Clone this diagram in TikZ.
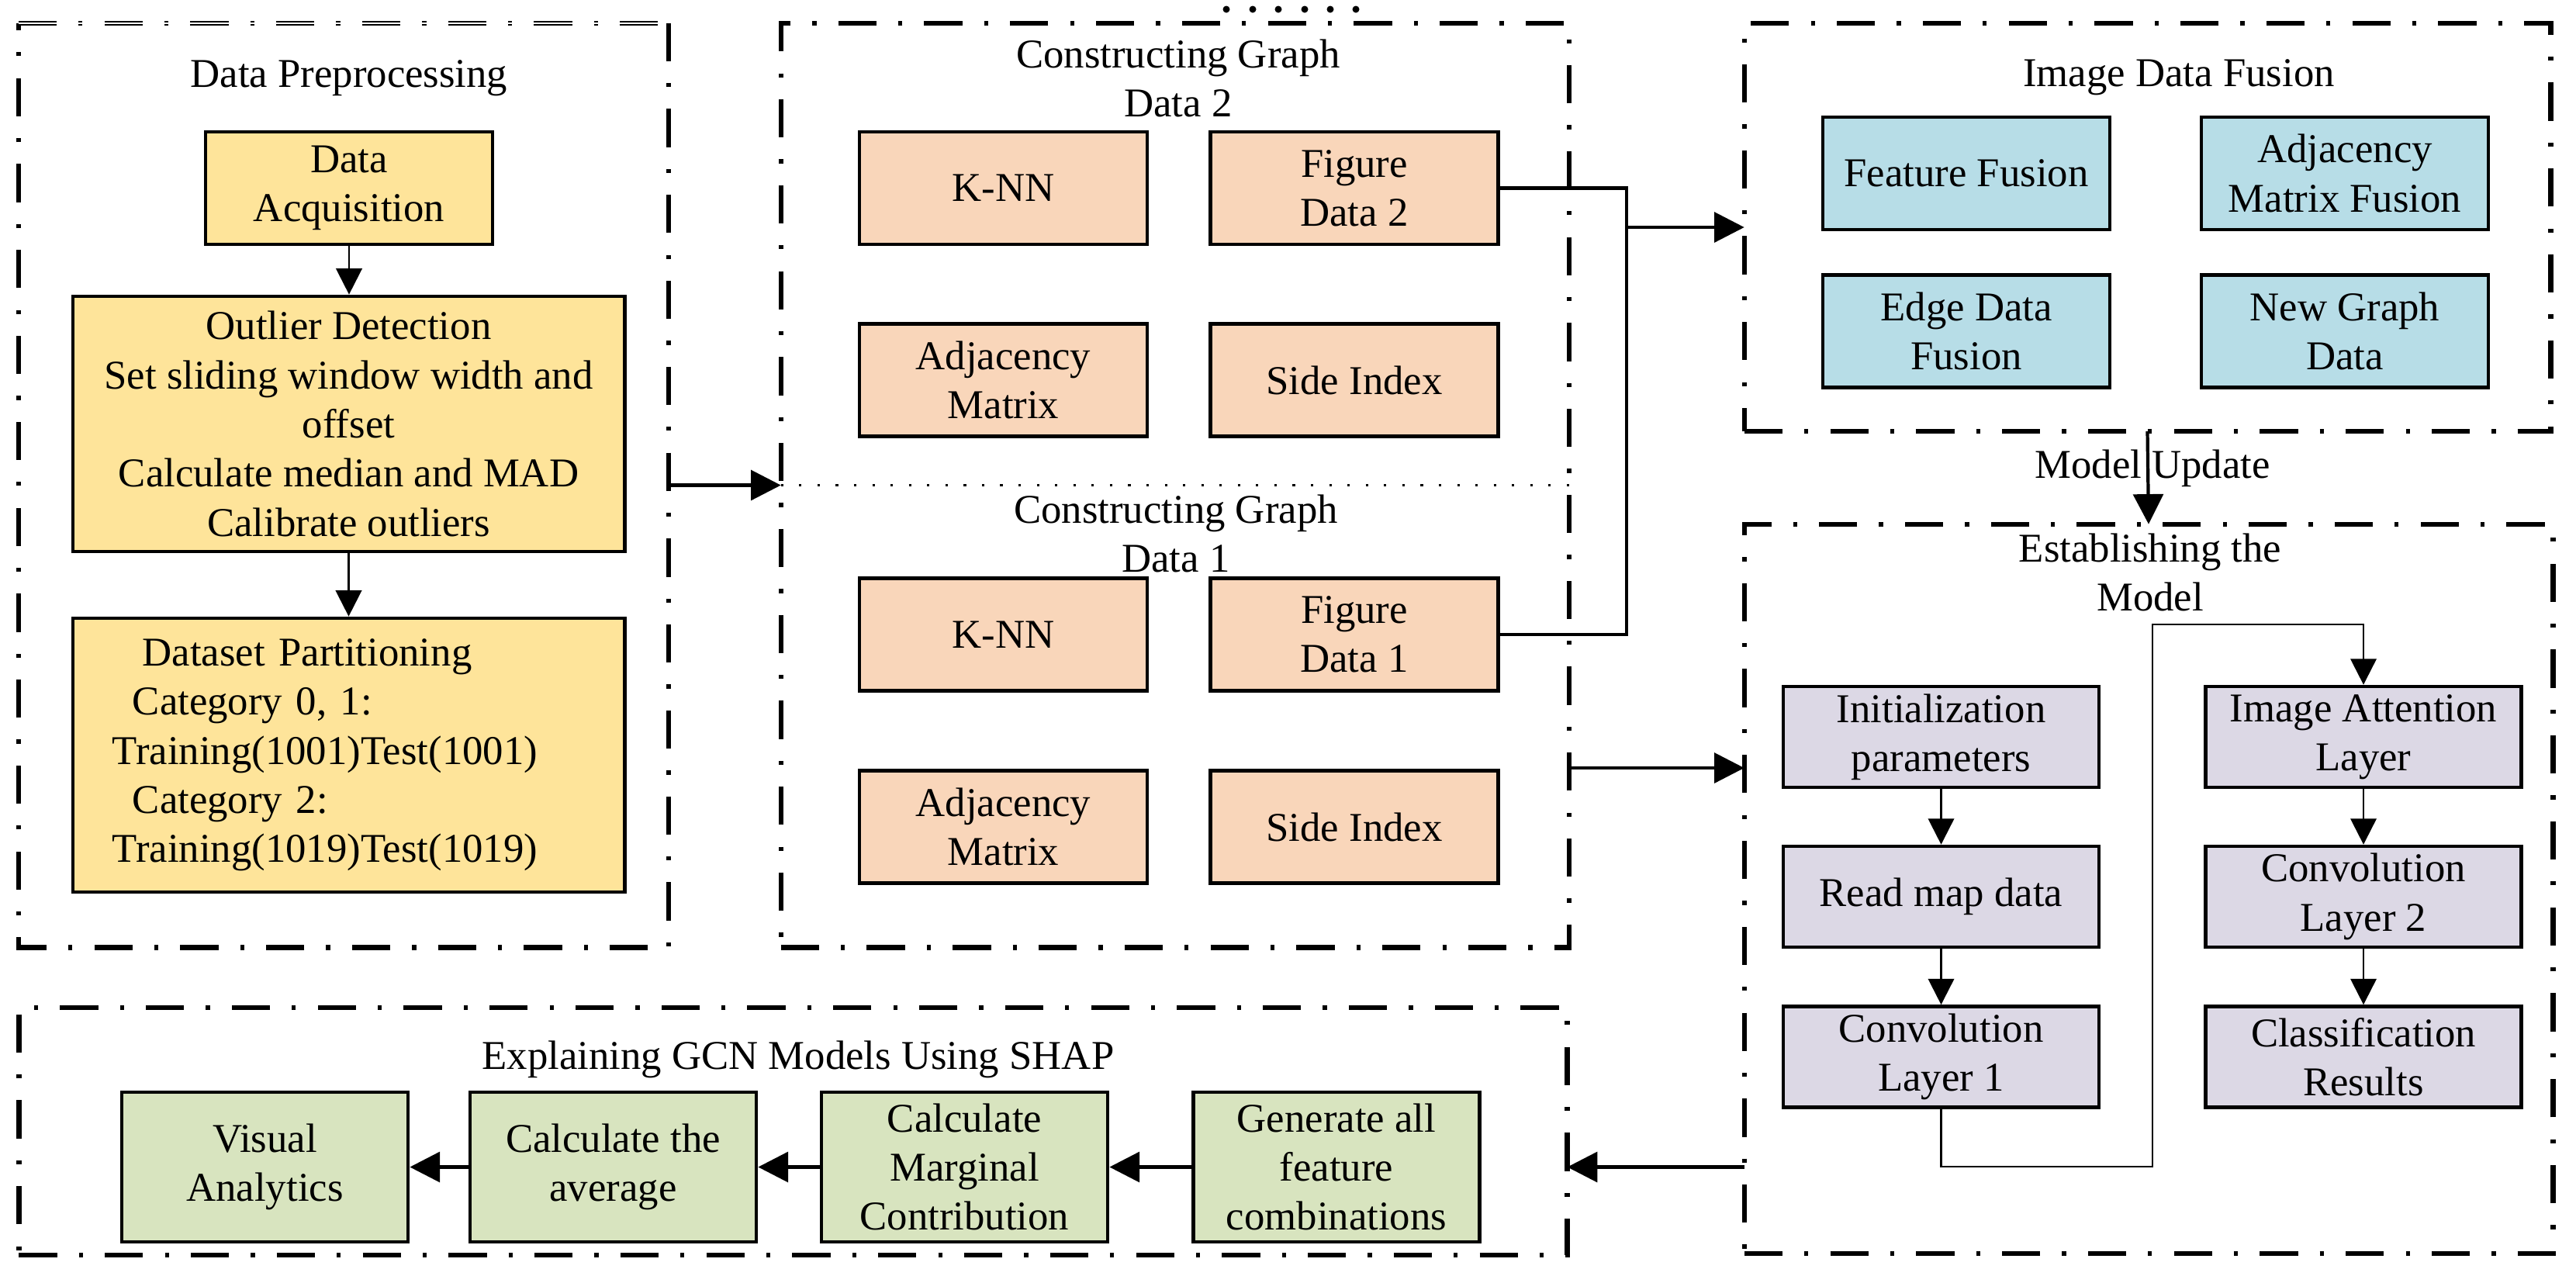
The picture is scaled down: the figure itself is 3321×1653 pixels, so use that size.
\documentclass[tikz,border=0pt]{standalone}
\usepackage{fontspec}
\setmainfont{Liberation Serif}
\usetikzlibrary{arrows.meta}
\definecolor{cyel}{HTML}{FEE49A}
\definecolor{cpea}{HTML}{F9D6BA}
\definecolor{cblu}{HTML}{B7DDE7}
\definecolor{cpur}{HTML}{DCD8E5}
\definecolor{cgrn}{HTML}{D8E4BF}
\begin{document}
\begin{tikzpicture}[x=0.01cm, y=-0.01cm,
  every node/.style={font=\fontsize{15pt}{18pt}\selectfont},
  box/.style={draw=black, line width=1.3pt, align=center, inner sep=0pt},
  contbox/.style={inner sep=0pt, outer sep=0pt},
  cont/.style={draw=black, line width=1.8pt, dash pattern=on 14pt off 8pt on 1.5pt off 8pt},
  sepdot/.style={line width=0.9pt, dash pattern=on 0.9pt off 5.8pt},
  thinarr/.style={line width=0.7pt, -{Triangle[width=9.5pt,length=9.5pt]}},
  thickarr/.style={line width=1.2pt, -{Triangle[width=11pt,length=11pt]}},
  thickln/.style={line width=1.2pt},
  title/.style={align=center, inner sep=0pt}
]
\useasboundingbox (0,0) rectangle (3321,1653);

% ---------- containers ----------
\node[contbox, minimum width=8.38cm, minimum height=11.91cm] (prep) at (443,625.5) {};
\draw[cont] (prep.north east) -- (prep.south east) -- (prep.south west) -- (prep.north west);
\draw[cont, line width=0.6pt, double=white, double distance=0.6pt] (prep.north west) -- (prep.north east);

\node[contbox, cont, minimum width=10.16cm, minimum height=11.91cm] (cons) at (1515,625.5) {};
\draw[sepdot] (cons.west) -- (cons.east);
\foreach \dx in {1581,1615,1648,1682,1715,1748} \fill (\dx,12) circle[radius=0.045cm];

\node[contbox, cont, minimum width=10.39cm, minimum height=5.26cm] (fusion) at (2768.5,293) {};
\node[contbox, cont, minimum width=10.42cm, minimum height=9.40cm] (est) at (2770,1146) {};
\node[contbox, cont, minimum width=19.95cm, minimum height=3.19cm] (shap) at (1022.5,1458.5) {};

% ---------- titles ----------
\node[title, anchor=base] (tprep) at (450,112) {Data Preprocessing};
\node[title] (tcons2) at (1519,101) {Constructing Graph\\Data 2};
\node[title] (tcons1) at (1516,688) {Constructing Graph\\Data 1};
\node[title, anchor=base] (tfus) at (2809,111) {Image Data Fusion};
\node[title] (test) at (2772,738) {Establishing the\\Model};
\node[title, anchor=base] (tshap) at (1029,1378) {Explaining GCN Models Using SHAP};

% ---------- data preprocessing ----------
\node[box, fill=cyel, minimum width=3.70cm, minimum height=1.45cm] (acq) at (450,242.5) {Data\\Acquisition};
\node[box, fill=cyel, minimum width=7.11cm, minimum height=3.29cm] (outl) at (449.5,546.5)
  {Outlier Detection\\Set sliding window width and\\offset\\Calculate median and MAD\\Calibrate outliers};
\node[box, fill=cyel, minimum width=7.11cm, minimum height=3.53cm, align=left, text width=6.09cm] (part) at (449.5,973.5)
  {\hspace*{11pt}Dataset Partitioning\\\hspace*{7.4pt}Category 0, 1:\\Training(1001)Test(1001)\\\hspace*{7.4pt}Category 2:\\Training(1019)Test(1019)};

% ---------- constructing graph ----------
\tikzset{pbox/.style={box, fill=cpea, minimum width=3.71cm, minimum height=1.45cm}}
\node[pbox] (knn2) at (1293.5,242.5) {K-NN};
\node[pbox] (fig2) at (1746,242.5) {Figure\\Data 2};
\node[pbox] (adj2) at (1293.5,490) {Adjacency\\Matrix};
\node[pbox] (side2) at (1746,490) {Side Index};
\node[pbox] (knn1) at (1293.5,818) {K-NN};
\node[pbox] (fig1) at (1746,818) {Figure\\Data 1};
\node[pbox] (adj1) at (1293.5,1066) {Adjacency\\Matrix};
\node[pbox] (side1) at (1746,1066) {Side Index};

% ---------- image data fusion ----------
\tikzset{bbox/.style={box, fill=cblu, minimum width=3.70cm, minimum height=1.45cm}}
\node[bbox] (ffus) at (2535,223.5) {Feature Fusion};
\node[bbox] (afus) at (3023,223.5) {Adjacency\\Matrix Fusion};
\node[bbox] (efus) at (2535,427) {Edge Data\\Fusion};
\node[bbox] (ngd) at (3023,427) {New Graph\\Data};

% ---------- establishing the model ----------
\tikzset{mbox/.style={box, fill=cpur, minimum width=4.07cm, minimum height=1.30cm}}
\node[mbox] (init) at (2502.5,950) {Initialization\\parameters};
\node[mbox] (read) at (2502.5,1156) {Read map data};
\node[mbox] (conv1) at (2502.5,1362.5) {Convolution\\Layer 1};
\node[mbox] (att) at (3047,950) {Image Attention\\Layer};
\node[mbox] (conv2) at (3047,1156) {Convolution\\Layer 2};
\node[mbox] (cls) at (3047,1362.5) {Classification\\Results};

% ---------- SHAP ----------
\tikzset{gbox/.style={box, fill=cgrn, minimum width=3.69cm, minimum height=1.93cm}}
\node[gbox] (vis) at (341.5,1504.5) {Visual\\Analytics};
\node[gbox] (avg) at (790.5,1504.5) {Calculate the\\average};
\node[gbox] (marg) at (1243.5,1504.5) {Calculate\\Marginal\\Contribution};
\node[gbox] (gen) at (1723,1504.5) {Generate all\\feature\\combinations};

% ---------- connectors ----------
\draw[thinarr] (acq.south) -- (acq.south |- outl.north);
\draw[thinarr] (outl.south) -- (outl.south |- part.north);
\draw[thickarr] (prep.east) -- (cons.west);

\coordinate (jn) at (2097,293);
\draw[thickln] (fig2.east) -| (jn);
\draw[thickln] (fig1.east) -| (jn);
\draw[thickarr] (jn) -- (fusion.west);

\node[title, anchor=base] (mupd) at (2775,616) {Model Update};
\draw[thickarr] (fusion.south) -- (est.north);

\coordinate (ein) at (2100,990);
\draw[thickarr] (cons.east |- ein) -- (est.west |- ein);

\draw[thinarr] (init.south) -- (read.north);
\draw[thinarr] (read.south) -- (conv1.north);
\draw[thinarr] (att.south) -- (conv2.north);
\draw[thinarr] (conv2.south) -- (cls.north);
\coordinate (r1) at (2775,1504);
\coordinate (r2) at (2775,805);
\draw[line width=0.7pt, -{Triangle[width=9.5pt,length=9.5pt]}] (conv1.south) |- (r1) -- (r2) -| (att.north);

\draw[thickarr] (est.west |- vis.east) -- (shap.east |- vis.east);
\draw[thickarr] (gen.west) -- (marg.east);
\draw[thickarr] (marg.west) -- (avg.east);
\draw[thickarr] (avg.west) -- (vis.east);
\end{tikzpicture}
\end{document}
